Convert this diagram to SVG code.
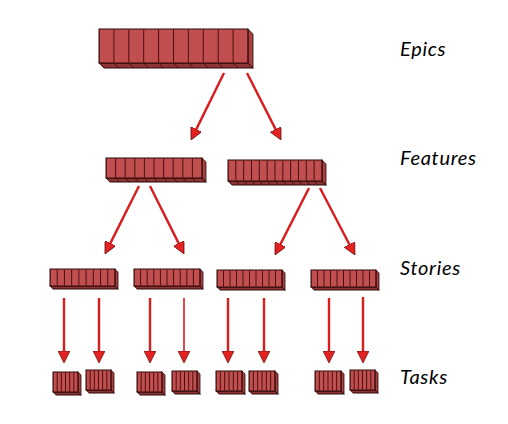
<svg xmlns="http://www.w3.org/2000/svg" width="508" height="424" viewBox="0 0 508 424">
<style>
.front{fill:#c24f4f;stroke:#2a0808;stroke-width:1}
.side{fill:#a84242;stroke:#2a0808;stroke-width:0.8}
.bot{fill:#8e3434;stroke:#2a0808;stroke-width:0.8}
.seg{stroke:#4a1010;fill:none}
.arrow{stroke:#d91c1c;stroke-width:2.4;fill:none;marker-end:url(#ah)}
.lbl{font-family:Lato,"Open Sans",sans-serif;font-style:italic;font-size:20px;letter-spacing:0.7px;fill:#000}
</style>
<defs>
<marker id="ah" viewBox="0 0 12 12" markerWidth="12" markerHeight="12" refX="8" refY="6" orient="auto" markerUnits="userSpaceOnUse">
<path d="M0,0 L12,6 L0,12 Z" fill="#e52222" stroke="#5a0a0a" stroke-width="0.7"/>
</marker>
</defs>
<rect width="508" height="424" fill="#fff"/>

<g id="epic" transform="translate(99,29)">
<g transform="translate(149,0) skewY(45)"><rect class="side" width="5" height="34"/></g>
<g transform="translate(0,34) skewX(45)"><rect class="bot" width="149" height="5"/><line class="seg" x1="0" y1="2.5" x2="149" y2="2.5" stroke-width="5" stroke-dasharray="1 13.9" stroke-dashoffset="0.5"/></g>
<rect class="front" width="149" height="34"/>
<line class="seg" x1="0" y1="17" x2="149" y2="17" stroke-width="33" stroke-dasharray="1 13.9" stroke-dashoffset="0.5"/>
</g>

<g id="feature1" transform="translate(106,158)">
<g transform="translate(96,0) skewY(45)"><rect class="side" width="4" height="20"/></g>
<g transform="translate(0,20) skewX(45)"><rect class="bot" width="96" height="4"/><line class="seg" x1="0" y1="2" x2="96" y2="2" stroke-width="4" stroke-dasharray="1 8.6" stroke-dashoffset="0.5"/></g>
<rect class="front" width="96" height="20"/>
<line class="seg" x1="0" y1="10" x2="96" y2="10" stroke-width="19" stroke-dasharray="1 8.6" stroke-dashoffset="0.5"/>
</g>

<g id="feature2" transform="translate(228,160)">
<g transform="translate(94,0) skewY(45)"><rect class="side" width="4" height="21"/></g>
<g transform="translate(0,21) skewX(45)"><rect class="bot" width="94" height="4"/><line class="seg" x1="0" y1="2" x2="94" y2="2" stroke-width="4" stroke-dasharray="1 6.83" stroke-dashoffset="0.5"/></g>
<rect class="front" width="94" height="21"/>
<line class="seg" x1="0" y1="10.5" x2="94" y2="10.5" stroke-width="20" stroke-dasharray="1 6.83" stroke-dashoffset="0.5"/>
</g>

<g id="story1" transform="translate(50,269)">
<g transform="translate(65,0) skewY(45)"><rect class="side" width="3" height="17"/></g>
<g transform="translate(0,17) skewX(45)"><rect class="bot" width="65" height="3"/></g>
<rect class="front" width="65" height="17"/>
<line class="seg" x1="0" y1="8.5" x2="65" y2="8.5" stroke-width="16" stroke-dasharray="1 6.22" stroke-dashoffset="0.5"/>
</g>

<g id="story2" transform="translate(134,269)">
<g transform="translate(66,0) skewY(45)"><rect class="side" width="3" height="17"/></g>
<g transform="translate(0,17) skewX(45)"><rect class="bot" width="66" height="3"/></g>
<rect class="front" width="66" height="17"/>
<line class="seg" x1="0" y1="8.5" x2="66" y2="8.5" stroke-width="16" stroke-dasharray="1 5.6" stroke-dashoffset="0.5"/>
</g>

<g id="story3" transform="translate(217,270)">
<g transform="translate(65,0) skewY(45)"><rect class="side" width="3" height="17"/></g>
<g transform="translate(0,17) skewX(45)"><rect class="bot" width="65" height="3"/></g>
<rect class="front" width="65" height="17"/>
<line class="seg" x1="0" y1="8.5" x2="65" y2="8.5" stroke-width="16" stroke-dasharray="1 5.5" stroke-dashoffset="0.5"/>
</g>

<g id="story4" transform="translate(311,270)">
<g transform="translate(65,0) skewY(45)"><rect class="side" width="3" height="17"/></g>
<g transform="translate(0,17) skewX(45)"><rect class="bot" width="65" height="3"/></g>
<rect class="front" width="65" height="17"/>
<line class="seg" x1="0" y1="8.5" x2="65" y2="8.5" stroke-width="16" stroke-dasharray="1 5.5" stroke-dashoffset="0.5"/>
</g>

<g id="task1" transform="translate(53,372)">
<g transform="translate(25,0) skewY(45)"><rect class="side" width="3" height="20"/></g>
<g transform="translate(0,20) skewX(45)"><rect class="bot" width="25" height="3"/></g>
<rect class="front" width="25" height="20"/>
<line class="seg" x1="0" y1="10" x2="25" y2="10" stroke-width="19" stroke-dasharray="1 3.17" stroke-dashoffset="0.5"/>
</g>
<g id="task2" transform="translate(86,370)">
<g transform="translate(25,0) skewY(45)"><rect class="side" width="3" height="20"/></g>
<g transform="translate(0,20) skewX(45)"><rect class="bot" width="25" height="3"/></g>
<rect class="front" width="25" height="20"/>
<line class="seg" x1="0" y1="10" x2="25" y2="10" stroke-width="19" stroke-dasharray="1 3.17" stroke-dashoffset="0.5"/>
</g>
<g id="task3" transform="translate(137,372)">
<g transform="translate(25,0) skewY(45)"><rect class="side" width="3" height="20"/></g>
<g transform="translate(0,20) skewX(45)"><rect class="bot" width="25" height="3"/></g>
<rect class="front" width="25" height="20"/>
<line class="seg" x1="0" y1="10" x2="25" y2="10" stroke-width="19" stroke-dasharray="1 3.17" stroke-dashoffset="0.5"/>
</g>
<g id="task4" transform="translate(172,371)">
<g transform="translate(25,0) skewY(45)"><rect class="side" width="3" height="20"/></g>
<g transform="translate(0,20) skewX(45)"><rect class="bot" width="25" height="3"/></g>
<rect class="front" width="25" height="20"/>
<line class="seg" x1="0" y1="10" x2="25" y2="10" stroke-width="19" stroke-dasharray="1 3.17" stroke-dashoffset="0.5"/>
</g>
<g id="task5" transform="translate(216,371)">
<g transform="translate(26,0) skewY(45)"><rect class="side" width="3" height="20"/></g>
<g transform="translate(0,20) skewX(45)"><rect class="bot" width="26" height="3"/></g>
<rect class="front" width="26" height="20"/>
<line class="seg" x1="0" y1="10" x2="26" y2="10" stroke-width="19" stroke-dasharray="1 3.33" stroke-dashoffset="0.5"/>
</g>
<g id="task6" transform="translate(249,371)">
<g transform="translate(26,0) skewY(45)"><rect class="side" width="3" height="20"/></g>
<g transform="translate(0,20) skewX(45)"><rect class="bot" width="26" height="3"/></g>
<rect class="front" width="26" height="20"/>
<line class="seg" x1="0" y1="10" x2="26" y2="10" stroke-width="19" stroke-dasharray="1 3.33" stroke-dashoffset="0.5"/>
</g>
<g id="task7" transform="translate(315,371)">
<g transform="translate(26,0) skewY(45)"><rect class="side" width="3" height="20"/></g>
<g transform="translate(0,20) skewX(45)"><rect class="bot" width="26" height="3"/></g>
<rect class="front" width="26" height="20"/>
<line class="seg" x1="0" y1="10" x2="26" y2="10" stroke-width="19" stroke-dasharray="1 3.33" stroke-dashoffset="0.5"/>
</g>
<g id="task8" transform="translate(350,370)">
<g transform="translate(25,0) skewY(45)"><rect class="side" width="3" height="20"/></g>
<g transform="translate(0,20) skewX(45)"><rect class="bot" width="25" height="3"/></g>
<rect class="front" width="25" height="20"/>
<line class="seg" x1="0" y1="10" x2="25" y2="10" stroke-width="19" stroke-dasharray="1 3.17" stroke-dashoffset="0.5"/>
</g>

<g id="connectors">
<line class="arrow" x1="224" y1="73" x2="192.8" y2="136.4"/>
<line class="arrow" x1="247" y1="73" x2="279.2" y2="136.4"/>
<line class="arrow" x1="139" y1="186" x2="106.8" y2="250.4"/>
<line class="arrow" x1="150" y1="186" x2="182.2" y2="250.4"/>
<line class="arrow" x1="309" y1="188" x2="276.8" y2="251.4"/>
<line class="arrow" x1="320" y1="188" x2="353.1" y2="251.5"/>
<line class="arrow" x1="64" y1="298" x2="64" y2="359"/>
<line class="arrow" x1="99" y1="298" x2="99" y2="359"/>
<line class="arrow" x1="150" y1="298" x2="150" y2="359"/>
<line class="arrow" x1="184" y1="298" x2="184" y2="359" style="stroke-width:1.6"/>
<line class="arrow" x1="228" y1="298" x2="228" y2="359"/>
<line class="arrow" x1="264" y1="298" x2="264" y2="359"/>
<line class="arrow" x1="329" y1="298" x2="329" y2="359"/>
<line class="arrow" x1="363" y1="297" x2="363" y2="359"/>
</g>

<g id="labels">
<text class="lbl" x="400" y="56">Epics</text>
<text class="lbl" x="400" y="165">Features</text>
<text class="lbl" x="400" y="275">Stories</text>
<text class="lbl" x="400" y="384">Tasks</text>
</g>
</svg>
